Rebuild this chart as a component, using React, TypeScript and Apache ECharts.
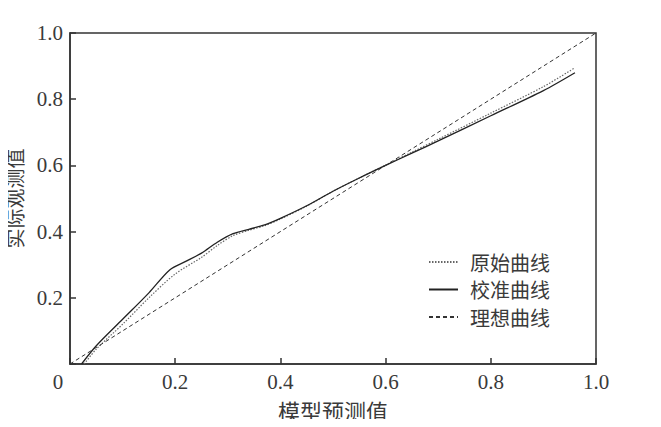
import React, { useEffect, useRef } from "react";
import * as echarts from "echarts";

const seriesNames = ["原始曲线", "校准曲线", "理想曲线"];
const xAxisTitle = "模型预测值";
const yAxisTitle = "实际观测值";

// 原始曲线 (x, y)
const rawX = [0.027, 0.05, 0.1, 0.15, 0.2, 0.25, 0.28, 0.31, 0.34, 0.37, 0.4, 0.45, 0.5, 0.55, 0.6, 0.65, 0.7, 0.8, 0.9, 0.96];
const rawY = [0.0, 0.045, 0.12, 0.2, 0.272, 0.322, 0.358, 0.388, 0.404, 0.418, 0.438, 0.477, 0.522, 0.562, 0.601, 0.64, 0.679, 0.758, 0.838, 0.895];

// 校准曲线 (x, y)
const calX = [0.022, 0.05, 0.1, 0.15, 0.19, 0.22, 0.25, 0.28, 0.31, 0.34, 0.37, 0.4, 0.45, 0.5, 0.55, 0.6, 0.65, 0.7, 0.8, 0.9, 0.96];
const calY = [0.0, 0.055, 0.135, 0.215, 0.285, 0.31, 0.335, 0.368, 0.394, 0.407, 0.42, 0.44, 0.478, 0.522, 0.562, 0.6, 0.637, 0.674, 0.75, 0.826, 0.88];

// 理想曲线
const idealX = [0, 1];
const idealY = [0, 1];

const tickValues = [0, 0.2, 0.4, 0.6, 0.8, 1.0];

const zip = (xs: number[], ys: number[]) => xs.map((x, i) => [x, ys[i]]);

const numFont = "Liberation Serif";
const cjkFont = "Noto Sans CJK SC";
const axisColor = "#333";
const textColor = "#3a3a3a";

export default function App() {
  const ref = useRef<HTMLDivElement>(null);
  useEffect(() => {
    if (!ref.current) return;
    const chart = echarts.init(ref.current, undefined, { renderer: "svg" });
    const fmt = (v: number) => {
      const t = tickValues.find((tv) => Math.abs(tv - v) < 1e-9);
      if (t === undefined) return "";
      return t === 0 ? "0" : t.toFixed(1);
    };
    chart.setOption({
      animation: false,
      backgroundColor: "#fff",
      grid: {
        left: 70,
        right: 65,
        top: 33,
        bottom: 63,
        outerBoundsMode: "none",
        containLabel: false,
        show: true,
        borderColor: axisColor,
        borderWidth: 1.5,
      },
      legend: {
        orient: "vertical",
        left: 428,
        top: 252,
        padding: 0,
        itemWidth: 29,
        itemHeight: 14,
        itemGap: 7.5,
        data: seriesNames,
        itemStyle: { opacity: 0 },
        textStyle: {
          fontFamily: cjkFont,
          fontSize: 20,
          color: textColor,
          padding: [0, 0, 0, 7],
        },
      },
      xAxis: {
        type: "value",
        min: 0,
        max: 1,
        interval: 0.2,
        name: xAxisTitle,
        nameLocation: "middle",
        nameGap: 35,
        nameTextStyle: { fontFamily: cjkFont, fontSize: 22, color: textColor },
        axisLine: { show: true, lineStyle: { color: axisColor, width: 1.5 } },
        axisTick: { show: true, inside: true, length: 6, lineStyle: { color: axisColor, width: 1.5 } },
        splitLine: { show: false },
        axisLabel: {
          fontFamily: numFont,
          fontSize: 21,
          color: textColor,
          margin: 7,
          formatter: (v: number) => (v === 0 ? "{z|0}" : fmt(v)),
          rich: {
            z: { fontFamily: numFont, fontSize: 21, color: textColor, padding: [0, 24, 0, 0] },
          },
        },
      },
      yAxis: {
        type: "value",
        min: 0,
        max: 1,
        interval: 0.2,
        name: yAxisTitle,
        nameLocation: "middle",
        nameGap: 46,
        nameRotate: 90,
        nameTextStyle: { fontFamily: cjkFont, fontSize: 20, color: textColor },
        axisLine: { show: true, lineStyle: { color: axisColor, width: 1.5 } },
        axisTick: { show: true, inside: true, length: 6, lineStyle: { color: axisColor, width: 1.5 } },
        splitLine: { show: false },
        axisLabel: {
          fontFamily: numFont,
          fontSize: 21,
          color: textColor,
          margin: 7,
          formatter: (v: number) => (v === 0 ? "" : fmt(v)),
        },
      },
      series: [
        {
          name: seriesNames[0],
          type: "line",
          data: zip(rawX, rawY),
          smooth: 0.3,
          symbol: "none",
          lineStyle: { color: "#666", width: 1.2, type: [1.5, 1.5] },
          itemStyle: { color: "#666" },
        },
        {
          name: seriesNames[1],
          type: "line",
          data: zip(calX, calY),
          smooth: 0.3,
          symbol: "none",
          lineStyle: { color: "#222", width: 1.3, type: "solid" },
          itemStyle: { color: "#222" },
        },
        {
          name: seriesNames[2],
          type: "line",
          data: zip(idealX, idealY),
          symbol: "none",
          lineStyle: { color: "#333", width: 1, type: [4, 3] },
          itemStyle: { color: "#333" },
        },
      ],
    });
    return () => chart.dispose();
  }, []);
  return <div ref={ref} style={{ width: 661, height: 427, margin: -8 }} />;
}
